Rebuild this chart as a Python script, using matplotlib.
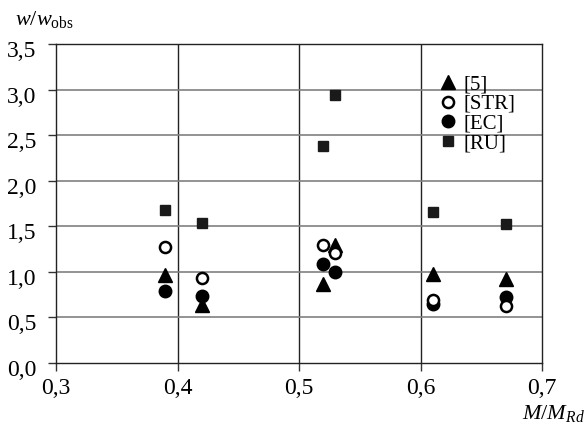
import matplotlib
matplotlib.use("Agg")
import matplotlib.pyplot as plt
import matplotlib.transforms as mtransforms
from matplotlib.ticker import FuncFormatter

plt.rcParams['font.family'] = ['Liberation Serif', 'DejaVu Serif']
plt.rcParams['mathtext.fontset'] = 'custom'
plt.rcParams['mathtext.rm'] = 'Liberation Serif'
plt.rcParams['mathtext.it'] = 'Liberation Serif:italic'

x_vals = [0.39, 0.42, 0.52, 0.53, 0.61, 0.67]
s5 = [0.96, 0.64, 0.87, 1.29, 0.98, 0.92]
sSTR = [1.27, 0.93, 1.29, 1.21, 0.69, 0.62]
sEC = [0.79, 0.74, 1.09, 1.00, 0.65, 0.72]
sRU = [1.68, 1.54, 2.38, 2.94, 1.66, 1.52]
labels = ['[5]', '[STR]', '[EC]', '[RU]']

fig = plt.figure(figsize=(5.87, 4.28), dpi=100)
ax = fig.add_axes([0.0954, 0.152, 0.828, 0.745])

ax.plot(x_vals, s5, linestyle='none', marker='^', color='black', markersize=10, label=labels[0], zorder=3)
ax.plot(x_vals, sSTR, linestyle='none', marker='o', markerfacecolor='white', markeredgecolor='black',
        markeredgewidth=1.8, markersize=8, label=labels[1], zorder=4)
ax.plot(x_vals, sEC, linestyle='none', marker='o', color='black', markersize=9, label=labels[2], zorder=3)
ax.plot(x_vals, sRU, linestyle='none', marker='s', color='#1a1a1a', markersize=7.5, label=labels[3], zorder=3)

ax.set_xlim(0.3, 0.7)
ax.set_ylim(0.0, 3.5)
ax.set_xticks([0.3, 0.4, 0.5, 0.6, 0.7])
ax.set_yticks([0.0, 0.5, 1.0, 1.5, 2.0, 2.5, 3.0, 3.5])
fmt = FuncFormatter(lambda v, p: f"{v:.1f}".replace('.', ','))
ax.xaxis.set_major_formatter(fmt)
ax.yaxis.set_major_formatter(fmt)
ax.tick_params(axis='both', direction='out', length=6, width=1, color='#333333', labelsize=17)
ax.tick_params(axis='y', pad=8)
ax.tick_params(axis='x', pad=5)

offset = mtransforms.ScaledTranslation(0, -5 / 100, fig.dpi_scale_trans)
for lab in ax.get_yticklabels():
    lab.set_transform(lab.get_transform() + offset)

for xv in [0.4, 0.5, 0.6]:
    ax.axvline(xv, color='#222222', linewidth=1.0, zorder=1)
for yv in [0.5, 1.0, 1.5, 2.0, 2.5, 3.0]:
    ax.axhline(yv, color='#808080', linewidth=1.2, zorder=1)
for sp in ax.spines.values():
    sp.set_color('#222222')
    sp.set_linewidth(1.0)

leg = ax.legend(loc='upper left', bbox_to_anchor=(0.766, 0.93), frameon=False, fontsize=15,
                handletextpad=0.2, labelspacing=0.0, borderaxespad=0, handlelength=1.1)

fig.text(0.026, 0.942, r'$\it{w}$/$\it{w}_{\rm obs}$', fontsize=16, ha='left', va='baseline')
fig.text(0.997, 0.021, r'$\it{M}$/$\it{M}_{Rd}$', fontsize=16, ha='right', va='baseline')

fig.savefig('out.png', dpi=100)
